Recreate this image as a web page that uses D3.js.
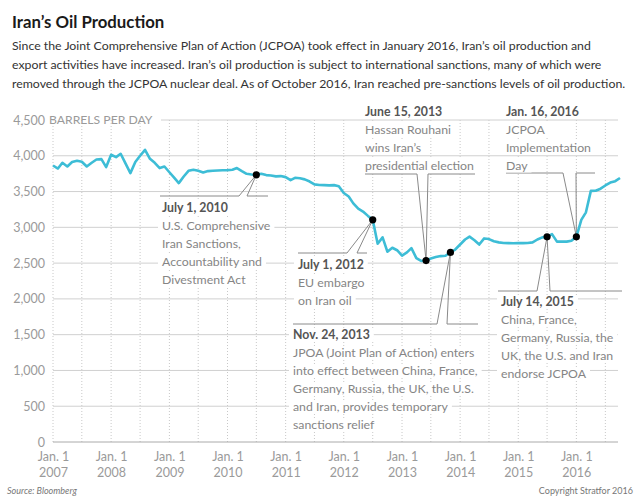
<!DOCTYPE html>
<html>
<head>
<meta charset="utf-8">
<script src="https://cdn.jsdelivr.net/npm/d3@7"></script>
<style>
  body { margin: 0; background: #fff; }
  svg { display: block; font-family: Lato, "Open Sans", sans-serif; }
</style>
</head>
<body>
<svg id="chart" width="640" height="500"></svg>
<script>
// Iran's oil production, monthly, barrels per day (thousands shown as-is)

const firstMonth = new Date(2007, 0, 1);

// one value per month, Jan 2007 .. Oct 2016
const production = [
  3864, 3822, 3902, 3850, 3912, 3930, 3916, 3850, 3902, 3948, 3953, 3842, // 2007
  4014, 3981, 4028, 3890, 3758, 3912, 4000, 4083, 3958, 3902, 3828, 3850, // 2008
  3770, 3690, 3618, 3710, 3790, 3805, 3790, 3766, 3786, 3790, 3795, 3798, // 2009
  3800, 3804, 3828, 3786, 3748, 3738, 3734, 3748, 3730, 3724, 3712, 3716, // 2010
  3702, 3660, 3692, 3685, 3670, 3640, 3600, 3592, 3590, 3586, 3590, 3575, // 2011
  3480, 3430, 3335, 3260, 3221, 3160, 3105, 2770, 2860, 2660, 2715, 2680, // 2012
  2605, 2650, 2710, 2570, 2530, 2535, 2565, 2584, 2598, 2603, 2650, 2690, // 2013
  2760, 2830, 2870, 2820, 2760, 2845, 2836, 2805, 2790, 2782, 2780, 2778, // 2014
  2780, 2780, 2782, 2790, 2830, 2860, 2868, 2905, 2800, 2800, 2800, 2812, // 2015
  2868, 3105, 3210, 3510, 3512, 3540, 3585, 3625, 3645, 3690              // 2016
];

const yTicks = [0, 500, 1000, 1500, 2000, 2500, 3000, 3500, 4000, 4500];
const xTickYears = [2007, 2008, 2009, 2010, 2011, 2012, 2013, 2014, 2015, 2016];

const title = "Iran\u2019s Oil Production";
const intro = [
  "Since the Joint Comprehensive Plan of Action (JCPOA) took effect in January 2016, Iran\u2019s oil production and",
  "export activities have increased. Iran\u2019s oil production is subject to international sanctions, many of which were",
  "removed through the JCPOA nuclear deal. As of October 2016, Iran reached pre-sanctions levels of oil production."
];

// events: label, text lines, month of the marked data point
const eventLabels = ["July 1, 2010", "July 1, 2012", "June 15, 2013", "Nov. 24, 2013", "July 14, 2015", "Jan. 16, 2016"];
const eventMonths = [new Date(2010, 6, 1), new Date(2012, 6, 1), new Date(2013, 5, 1),
                     new Date(2013, 10, 1), new Date(2015, 6, 1), new Date(2016, 0, 1)];
const eventTexts = [
  ["U.S. Comprehensive", "Iran Sanctions,", "Accountability and", "Divestment Act"],
  ["EU embargo", "on Iran oil"],
  ["Hassan Rouhani", "wins Iran\u2019s", "presidential election"],
  ["JPOA (Joint Plan of Action) enters", "into effect between China, France,",
   "Germany, Russia, the UK, the U.S.", "and Iran, provides temporary", "sanctions relief"],
  ["China, France,", "Germany, Russia, the", "UK, the U.S. and Iran", "endorse JCPOA"],
  ["JCPOA", "Implementation", "Day"]
];

// layout of each callout (pixels): text origin, leader baseline, leader segments
const calloutLayout = [
  { tx: 162, ty: 211.5, ly: 196, x0: 160, n0: 239, n1: 247, x1: 268 },
  { tx: 298, ty: 268.5, ly: 253, x0: 298, n0: 347, n1: 357, x1: 367 },
  { tx: 365, ty: 116,   ly: 174, x0: 365, n0: 417, n1: 428, x1: 475 },
  { tx: 293, ty: 339,   ly: 324, x0: 293, n0: 437, n1: 447, x1: 478 },
  { tx: 501, ty: 306,   ly: 291, x0: 498, n0: 537, n1: 550, x1: 622 },
  { tx: 506, ty: 116,   ly: 173, x0: 506, n0: 563, n1: 576, x1: 595 }
];

const data = production.map((v, i) => ({ date: d3.timeMonth.offset(firstMonth, i), value: v }));

const svg = d3.select("#chart");

const x = d3.scaleTime()
  .domain([firstMonth, new Date(2016, 9, 1)])
  .range([53, 620]);

const y = d3.scaleLinear()
  .domain([0, 4500])
  .range([442, 120]);

const gridRight = 618;

// Title + intro
svg.append("text")
  .attr("x", 12).attr("y", 28)
  .style("font-size", "16.8px").style("font-weight", "bold")
  .attr("fill", "#1a1a1a")
  .text(title);

svg.selectAll(".intro")
  .data(intro)
  .enter().append("text")
  .attr("class", "intro")
  .attr("x", 12)
  .attr("y", (d, i) => 50 + i * 19)
  .style("font-size", "12.3px")
  .attr("fill", "#333")
  .text(d => d);

// vertical dotted grid, every half year
const halfYears = d3.timeMonth.every(6).range(firstMonth, new Date(2016, 9, 2));
svg.append("g")
  .selectAll("line")
  .data(halfYears)
  .enter().append("line")
  .attr("x1", d => x(d)).attr("x2", d => x(d))
  .attr("y1", y(4500)).attr("y2", y(0))
  .attr("stroke", "#c8c8c8")
  .attr("stroke-dasharray", "1,2");

// horizontal grid
svg.append("g")
  .selectAll("line")
  .data(yTicks)
  .enter().append("line")
  .attr("x1", d => d === 4500 ? 161 : 53)
  .attr("x2", gridRight)
  .attr("y1", d => y(d)).attr("y2", d => y(d))
  .attr("stroke", d => d === 0 ? "#aaa" : "#d0d0d0")
  .attr("stroke-width", 1);

// y axis labels
const yAxis = svg.append("g")
  .attr("transform", "translate(45,0)")
  .call(d3.axisLeft(y).tickValues(yTicks).tickSize(0).tickPadding(0).tickFormat(d3.format(",")));
yAxis.select(".domain").remove();
yAxis.selectAll("text")
  .attr("fill", "#9a9a9a")
  .style("font-size", "12.5px")
  .style("font-family", "Lato, sans-serif");

svg.append("text")
  .attr("x", 49).attr("y", y(4500))
  .attr("dy", "0.32em")
  .attr("fill", "#9a9a9a")
  .style("font-size", "12.2px")
  .text("BARRELS PER DAY");

// x axis labels (two lines)
const xAxis = svg.append("g")
  .attr("transform", `translate(0,${y(0)})`)
  .call(d3.axisBottom(x)
    .tickValues(xTickYears.map(yr => new Date(yr, 0, 1)))
    .tickSize(0)
    .tickFormat(""));
xAxis.select(".domain").remove();
xAxis.selectAll(".tick text").remove();
xAxis.selectAll(".tick").each(function (d) {
  const t = d3.select(this).append("text")
    .attr("text-anchor", "middle")
    .attr("fill", "#9a9a9a")
    .style("font-size", "12.5px")
    .style("font-family", "Lato, sans-serif");
  t.append("tspan").attr("x", 0).attr("y", 18.5).text("Jan. 1");
  t.append("tspan").attr("x", 0).attr("y", 34.5).text(d.getFullYear());
});

// callouts
const valueAt = date => data.find(d => +d.date === +date).value;

const callouts = svg.append("g");
eventLabels.forEach((label, i) => {
  const L = calloutLayout[i];
  const dx = x(eventMonths[i]);
  const dy = y(valueAt(eventMonths[i]));

  callouts.append("path")
    .attr("d", d3.line()([[L.x0, L.ly], [L.n0, L.ly], [dx, dy], [L.n1, L.ly], [L.x1, L.ly]]))
    .attr("fill", "none")
    .attr("stroke", "#8a8a8a")
    .attr("stroke-width", 1);

  const g = callouts.append("g");
  const lines = [label].concat(eventTexts[i]);
  lines.forEach((txt, k) => {
    const t = g.append("text")
      .attr("x", L.tx)
      .attr("y", L.ty + k * 18)
      .style("font-size", "12.3px")
      .style("font-weight", k === 0 ? "bold" : "normal")
      .attr("fill", k === 0 ? "#555" : "#858585")
      .text(txt);
    const len = t.node().getComputedTextLength();
    g.insert("rect", () => t.node())
      .attr("x", L.tx - 4)
      .attr("y", L.ty + k * 18 - 11)
      .attr("width", len + 8)
      .attr("height", 13.5)
      .attr("fill", "#fff");
  });
});

// production line
svg.append("path")
  .datum(data)
  .attr("fill", "none")
  .attr("stroke", "#3dbdd6")
  .attr("stroke-width", 2.6)
  .attr("stroke-linejoin", "round")
  .attr("d", d3.line().x(d => x(d.date)).y(d => y(d.value)));

// event dots
svg.append("g")
  .selectAll("circle")
  .data(eventMonths)
  .enter().append("circle")
  .attr("cx", d => x(d))
  .attr("cy", d => y(valueAt(d)))
  .attr("r", 3.6)
  .attr("fill", "#000");

// footer
svg.append("text")
  .attr("x", 7).attr("y", 494)
  .style("font-size", "9px").style("font-style", "italic")
  .attr("fill", "#777")
  .text("Source: Bloomberg");

svg.append("text")
  .attr("x", 633).attr("y", 494)
  .attr("text-anchor", "end")
  .style("font-size", "9px")
  .attr("fill", "#777")
  .text("Copyright Stratfor 2016");
</script>
</body>
</html>
